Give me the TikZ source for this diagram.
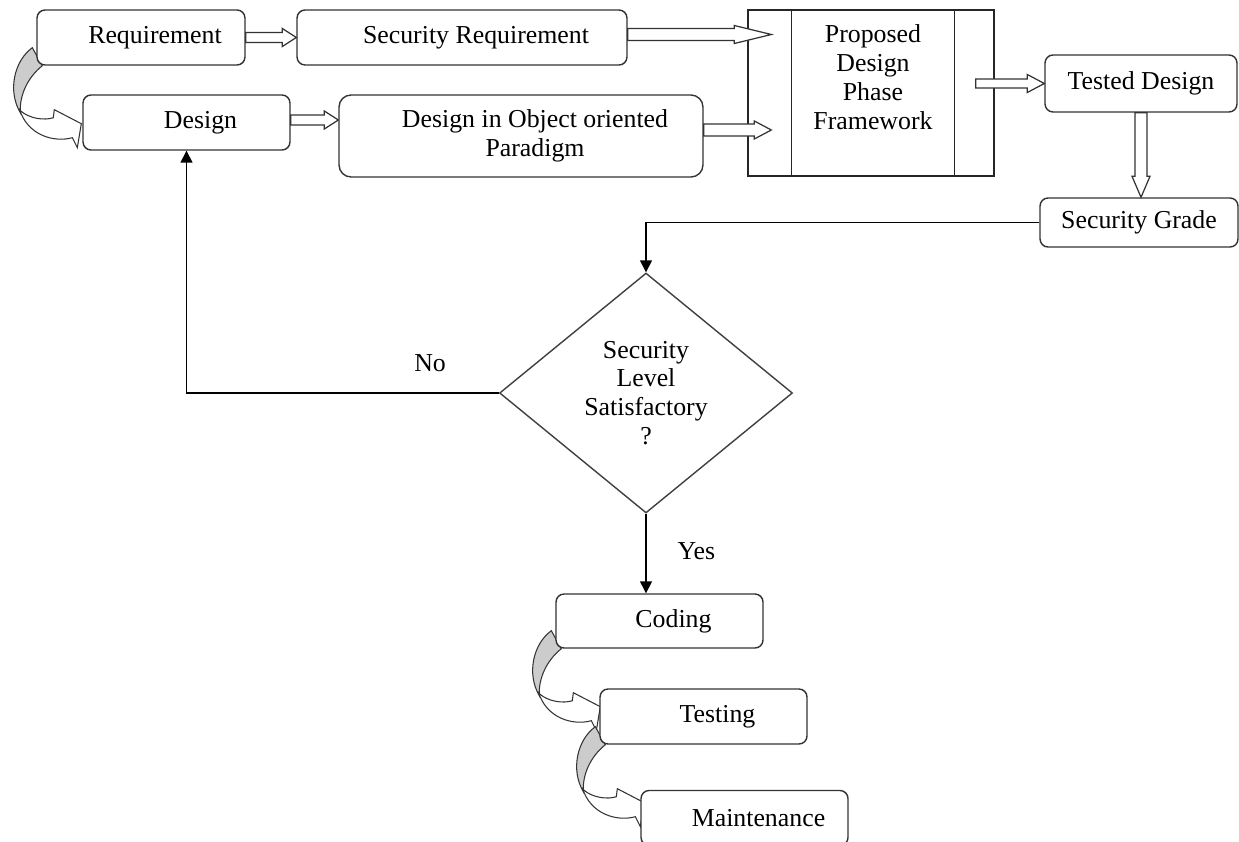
\documentclass[tikz,border=0pt]{standalone}
\usepackage{fontspec}
\setmainfont{Liberation Serif}
\usetikzlibrary{arrows.meta,calc,shapes.geometric,backgrounds}
\tikzset{
  procbox/.style={draw=black!80,line width=0.8pt,rounded corners=0.16cm,fill=white,
    minimum width=4.14cm,minimum height=1.1cm,inner sep=0pt},
  indent/.style={execute at begin node={\hspace*{0.56cm}}},
  framebox/.style={draw=black!85,line width=0.8pt,fill=white,minimum width=4.92cm,minimum height=3.32cm},
  decision/.style={diamond,draw=black!75,line width=0.8pt,fill=white,minimum width=5.86cm,
    minimum height=4.8cm,inner sep=0pt,align=center},
  flowline/.style={draw=black,line width=0.8pt,-{Triangle[length=0.24cm,width=0.24cm]}},
  hollow/.style n args={3}{draw=black!80,line width=0.7pt,fill=white,to path={
    ($(\tikztostart)!#1!90:(\tikztotarget)$)
    -- ($(\tikztotarget)!#3!(\tikztostart)!#1!-90:(\tikztostart)$)
    -- ($(\tikztotarget)!#3!(\tikztostart)!#2!-90:(\tikztostart)$)
    -- (\tikztotarget)
    -- ($(\tikztotarget)!#3!(\tikztostart)!#2!90:(\tikztostart)$)
    -- ($(\tikztotarget)!#3!(\tikztostart)!#1!90:(\tikztostart)$)
    -- ($(\tikztostart)!#1!-90:(\tikztotarget)$) -- cycle}},
  bendarrow/.pic={
    \filldraw[fill=black!20,draw=black!80,line width=0.6pt]
      (-4,-18) -- (6,0) .. controls (-9,12) and (-17,30) .. (-16,47)
      .. controls (-29,25) and (-22,-5) .. cycle;
    \filldraw[fill=white,draw=black!80,line width=0.6pt]
      (-16,45) .. controls (-7,53) and (8,55) .. (17,52) -- (18,44) -- (45,58)
      -- (41,82) -- (36,72) .. controls (18,77) and (-9,70) .. (-17,43) -- cycle;
  }
}

\begin{document}
\begin{tikzpicture}[x=0.02cm,y=-0.02cm,font=\fontsize{14.7pt}{16.4pt}\selectfont]
  \useasboundingbox (0,0) rectangle (1239,841);

  % upper row
  \node[procbox,indent,minimum width=4.16cm] (req) at (141,37.5) {Requirement};
  \node[procbox,indent,minimum width=6.6cm] (sreq) at (462,37.5) {Security Requirement};
  \node[procbox,indent] (design) at (186.5,122.5) {Design};
  \node[procbox,align=center,minimum width=7.28cm,minimum height=1.64cm,rounded corners=0.24cm] (oodesign) at (521,136)
    {\hspace*{0.56cm}Design in Object oriented\\\hspace*{0.56cm}Paradigm};
  \node[framebox] (frame) at (871,93) {};
  \draw[draw=black!85,line width=0.8pt] ([xshift=0.88cm]frame.north west) -- ([xshift=0.88cm]frame.south west);
  \draw[draw=black!85,line width=0.8pt] ([xshift=-0.8cm]frame.north east) -- ([xshift=-0.8cm]frame.south east);
  \node[align=center] (frametitle) at (873,77) {Proposed\\Design\\Phase\\Framework};
  \node[procbox,minimum width=3.84cm,minimum height=1.14cm] (tested) at (1141,83.5) {Tested Design};
  \node[procbox,minimum width=3.96cm,minimum height=0.98cm] (grade) at (1139,222.5) {Security Grade};

  % decision and lower steps
  \node[decision] (check) at (646,393) {Security\\Level\\Satisfactory\\?};
  \node[procbox,indent,minimum height=1.08cm] (coding) at (659.5,621) {Coding};
  \node[procbox,indent] (testing) at (703.5,716.5) {Testing};
  \node[procbox,indent] (maint) at (744.5,818) {Maintenance};

  % curved step arrows
  \begin{scope}[on background layer]
    \pic at (req.south west) {bendarrow};
    \pic at (coding.south west) {bendarrow};
    \pic at (testing.south west) {bendarrow};
  \end{scope}

  % hollow block arrows
  \draw[hollow={0.1cm}{0.18cm}{0.28cm}] (req.east) to (req.east -| sreq.west);
  \draw[hollow={0.12cm}{0.18cm}{0.74cm}] ([yshift=0.06cm]sreq.east) to ($([yshift=0.06cm]sreq.east -| frame.west)+(24,0)$);
  \draw[hollow={0.1cm}{0.18cm}{0.28cm}] ([yshift=0.05cm]design.east) to ([yshift=0.05cm]design.east -| oodesign.west);
  \draw[hollow={0.12cm}{0.18cm}{0.34cm}] ([yshift=0.12cm]oodesign.east) to ($([yshift=0.12cm]oodesign.east -| frame.west)+(24,0)$);
  \draw[hollow={0.09cm}{0.18cm}{0.34cm}] ($(tested.west -| frame.east)+(-19,0)$) to (tested.west);
  \draw[hollow={0.12cm}{0.18cm}{0.42cm}] (tested.south) to (tested.south |- grade.north);

  % decision lines
  \draw[flowline] (grade.west) -| (check.north);
  \draw[flowline] (check.west) -| node[pos=0.11,above=0.3cm] (nolabel) {No} (design.south);
  \draw[flowline] (check.south) -- node[pos=0.47,right=0.5cm] (yeslabel) {Yes} (check.south |- coding.north);
\end{tikzpicture}
\end{document}
